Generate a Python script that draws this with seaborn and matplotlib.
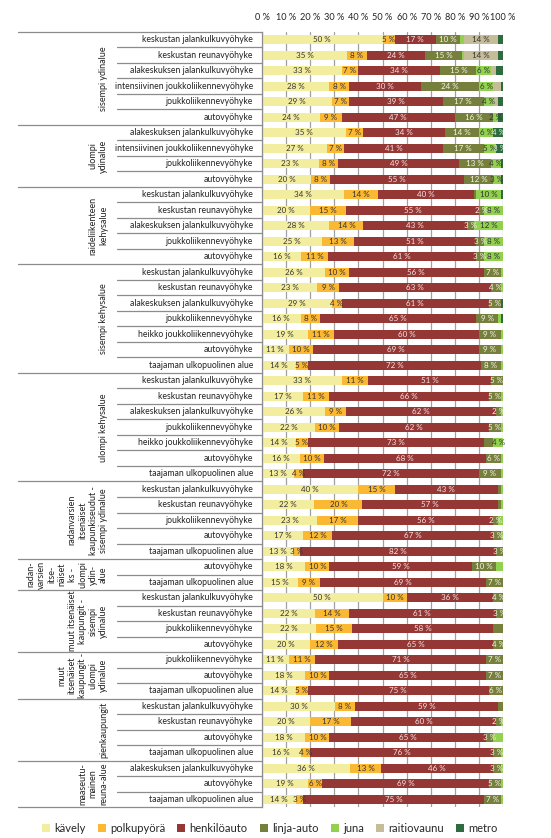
import numpy as np
import pandas as pd
import matplotlib
matplotlib.use("Agg")
import matplotlib.pyplot as plt
import seaborn as sns
from matplotlib.patches import Patch
from matplotlib.transforms import blended_transform_factory

sns.set_theme(style="white")
plt.rcParams["font.family"] = ["Lato", "DejaVu Sans"]

# ---------------- data ----------------
modes = ["kävely", "polkupyörä", "henkilöauto", "linja-auto", "juna", "raitiovaunu", "metro"]

groups = [
    "sisempi ydinalue",
    "ulompi\nydinalue",
    "raideliikenteen\nkehysalue",
    "sisempi kehysalue",
    "ulompi kehysalue",
    "radanvarsien\nitsenäiset\nkaupunkiseudut -\nsisempi ydinalue",
    "radan-\nvarsien\nitse-\nnäiset\nks -\nulompi\nydin-\nalue",
    "muut itsenäiset\nkaupungit -\nsisempi\nydinalue",
    "muut\nitsenäiset\nkaupungit -\nulompi\nydinalue",
    "pienkaupungit",
    "maaseutu-\nmainen\nreuna-alue",
]
group_sizes = [6, 4, 5, 7, 7, 5, 2, 4, 3, 4, 3]

KJ = "keskustan jalankulkuvyöhyke"
KR = "keskustan reunavyöhyke"
AJ = "alakeskuksen jalankulkuvyöhyke"
IJ = "intensiivinen joukkoliikennevyöhyke"
JL = "joukkoliikennevyöhyke"
HJ = "heikko joukkoliikennevyöhyke"
AV = "autovyöhyke"
TU = "taajaman ulkopuolinen alue"

zones = [KJ, KR, AJ, IJ, JL, AV,
         AJ, IJ, JL, AV,
         KJ, KR, AJ, JL, AV,
         KJ, KR, AJ, JL, HJ, AV, TU,
         KJ, KR, AJ, JL, HJ, AV, TU,
         KJ, KR, JL, AV, TU,
         AV, TU,
         KJ, KR, JL, AV,
         JL, AV, TU,
         KJ, KR, AV, TU,
         AJ, AV, TU]

kavely = [50, 35, 33, 28, 29, 24,
          35, 27, 23, 20,
          34, 20, 28, 25, 16,
          26, 23, 29, 16, 19, 11, 14,
          33, 17, 26, 22, 14, 16, 13,
          40, 22, 23, 17, 13,
          18, 15,
          50, 22, 22, 20,
          11, 18, 14,
          30, 20, 18, 16,
          36, 19, 14]
polkupyora = [5, 8, 7, 8, 7, 9,
              7, 7, 8, 8,
              14, 15, 14, 13, 11,
              10, 9, 4, 8, 11, 10, 5,
              11, 11, 9, 10, 5, 10, 4,
              15, 20, 17, 12, 3,
              10, 9,
              10, 14, 15, 12,
              11, 10, 5,
              8, 17, 10, 4,
              13, 6, 3]
henkiloauto = [17, 24, 34, 30, 39, 47,
               34, 41, 49, 55,
               40, 55, 43, 51, 61,
               56, 63, 61, 65, 60, 69, 72,
               51, 66, 62, 62, 73, 68, 72,
               43, 57, 56, 67, 82,
               59, 69,
               36, 61, 58, 65,
               71, 65, 75,
               59, 60, 65, 76,
               46, 69, 75]
linja_auto = [10, 15, 15, 24, 17, 16,
              14, 17, 13, 12,
              1, 2, 3, 3, 3,
              7, 4, 5, 9, 9, 9, 8,
              5, 5, 2, 5, 4, 6, 9,
              1, 1, 2, 3, 3,
              10, 7,
              4, 3, 4, 4,
              7, 7, 6,
              2, 2, 3, 3,
              3, 5, 7]
juna = [2, 1, 6, 6, 4, 2,
        6, 5, 4, 3,
        10, 8, 12, 8, 8,
        1, 1, 0, 1, 1, 1, 1,
        0, 1, 1, 1, 4, 1, 1,
        1, 1, 2, 1, 0,
        3, 0,
        0, 0, 0, 0,
        0, 0, 0,
        0, 1, 4, 1,
        1, 1, 1]
raitiovaunu = [14, 14, 2, 3, 2, 0,
               0, 0, 0, 0,
               0, 0, 0, 0, 0,
               0, 0, 0, 0, 0, 0, 0,
               0, 0, 0, 0, 0, 0, 0,
               0, 0, 0, 0, 0,
               0, 0,
               0, 0, 0, 0,
               0, 0, 0,
               0, 0, 0, 0,
               0, 0, 0]
metro = [2, 2, 3, 1, 2, 2,
         4, 3, 1, 1,
         1, 0, 0, 0, 0,
         0, 0, 1, 1, 0, 0, 0,
         0, 0, 0, 0, 0, 0, 0,
         0, 0, 0, 0, 0,
         0, 0,
         0, 0, 0, 0,
         0, 0, 0,
         0, 0, 0, 0,
         0, 0, 0]

# segments whose data label is not shown in the reference (row, mode index)
hidden_labels = [(0, 4), (0, 6), (1, 6), (2, 5), (2, 6), (3, 5), (4, 5), (4, 6),
                 (5, 6), (26, 3), (31, 4), (34, 4), (38, 3), (43, 3), (45, 4)]

# ---------------- style ----------------
colors = ["#F3EDA0", "#FBB832", "#953735", "#76803C", "#92D050", "#C4BD97", "#2E6B3F"]
label_colors = ["#333333", "#333333", "#F4E4E4", "#F4F4E8", "#333333", "#333333", "#E8F4E8"]

W, H = 551, 838
fig = plt.figure(figsize=(W / 100, H / 100), dpi=100)
ax_left, ax_right, ax_top, ax_bot = 262, 503, 32, 807
ax = fig.add_axes([ax_left / W, 1 - ax_bot / H, (ax_right - ax_left) / W, (ax_bot - ax_top) / H])

series = [kavely, polkupyora, henkiloauto, linja_auto, juna, raitiovaunu, metro]
vals = np.array(series, dtype=float).T  # rows x modes
n = vals.shape[0]
row_ids = [f"r{i}" for i in range(n)]
pct = vals / vals.sum(axis=1, keepdims=True) * 100
cum = np.cumsum(pct, axis=1)

df = pd.DataFrame(cum, columns=modes)
df["row"] = row_ids

for k in reversed(range(len(modes))):
    sns.barplot(data=df, x=modes[k], y="row", order=row_ids, orient="h",
                color=colors[k], saturation=1, width=0.56, linewidth=0,
                errorbar=None, ax=ax, zorder=2)

ax.set_xlim(0, 100)
ax.set_ylim(n - 0.5, -0.5)
ax.set_xlabel("")
ax.set_ylabel("")
ax.set_yticks([])
ax.xaxis.set_ticks_position("top")
ax.set_xticks(np.arange(0, 101, 10))
ax.set_xticklabels([f"{t} %" for t in range(0, 101, 10)])
ax.tick_params(axis="x", length=0, pad=7, labelsize=6.6, labelcolor="#222222")
ax.set_axisbelow(True)
ax.grid(axis="x", color="#A0A0A0", lw=0.9)
ax.grid(axis="y", visible=False)
for s in ["top", "right", "bottom"]:
    ax.spines[s].set_visible(False)
ax.spines["left"].set_color("#8C8C8C")
ax.spines["left"].set_linewidth(0.9)

# data labels
hidden = set(hidden_labels)
for i in range(n):
    for k in range(len(modes)):
        v = vals[i, k]
        if v >= 2 and (i, k) not in hidden:
            xc = cum[i, k] - pct[i, k] / 2
            ax.text(xc, i, f"{v:g} %", ha="center", va="center", fontsize=5.8,
                    color=label_colors[k], zorder=5)

# category table on the left
trans = blended_transform_factory(fig.transFigure, ax.transData)
line_kw = dict(transform=trans, color="#8C8C8C", lw=0.9, clip_on=False)
for i, z in enumerate(zones):
    ax.text(253 / W, i, z, transform=trans, ha="right", va="center",
            fontsize=6.25, color="#222222", clip_on=False)

starts = np.concatenate([[0], np.cumsum(group_sizes)])
for g, lab in enumerate(groups):
    a, b = starts[g], starts[g + 1]
    for r in range(a + 1, b):
        ax.plot([117 / W, ax_left / W], [r - 0.5, r - 0.5], **line_kw)
    ax.plot([18 / W, ax_left / W], [a - 0.5, a - 0.5], **line_kw)
    ax.text(108 / W, (a + b - 1) / 2, lab, transform=trans, rotation=90,
            ha="right", va="center", multialignment="center", fontsize=6.5,
            linespacing=1.2, color="#222222", clip_on=False)
ax.plot([18 / W, ax_left / W], [n - 0.5, n - 0.5], **line_kw)

# legend
handles = [Patch(facecolor=c, edgecolor="none") for c in colors]
fig.legend(handles, modes, loc="center", bbox_to_anchor=(0.49, 1 - 828 / H), ncol=7,
           frameon=False, fontsize=8, handlelength=0.7, handleheight=0.7,
           handletextpad=0.4, columnspacing=1.1)

fig.savefig("out.png", dpi=100)
